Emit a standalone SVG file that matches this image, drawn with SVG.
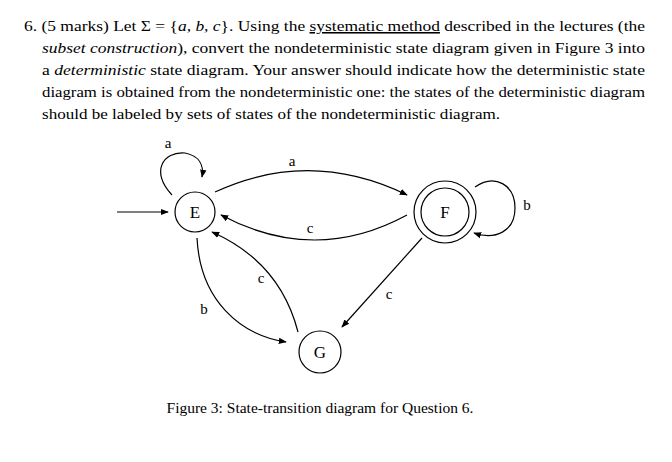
<svg xmlns="http://www.w3.org/2000/svg" width="672" height="462" viewBox="0 0 672 462">
<defs>
<marker id="ah" viewBox="0 0 10 10" refX="9" refY="5" markerWidth="8" markerHeight="8" markerUnits="userSpaceOnUse" orient="auto"><path d="M0,1 L10,5 L0,9 Z" fill="#000"/></marker>
</defs>
<style>
text{font-family:"Liberation Serif","DejaVu Serif",serif;fill:#000}
.p{font-size:15.5px}
.l{font-size:15px;fill:#222}
.n{font-size:17px}
.st{fill:#fff;stroke:#000;stroke-width:1.2}
.e{fill:none;stroke:#000;stroke-width:1.2;marker-end:url(#ah)}
</style>
<rect width="672" height="462" fill="#fff"/>
<g id="question" class="p">
<text x="24" y="31" textLength="621" lengthAdjust="spacingAndGlyphs">6. (5 marks) Let Σ = {<tspan font-style="italic">a, b, c</tspan>}. Using the <tspan text-decoration="underline">systematic method</tspan> described in the lectures (the</text>
<text x="42" y="53" textLength="603" lengthAdjust="spacingAndGlyphs"><tspan font-style="italic">subset construction</tspan>), convert the nondeterministic state diagram given in Figure 3 into</text>
<text x="42" y="75" textLength="603" lengthAdjust="spacingAndGlyphs">a <tspan font-style="italic">deterministic</tspan> state diagram. Your answer should indicate how the deterministic state</text>
<text x="42" y="97" textLength="603" lengthAdjust="spacingAndGlyphs">diagram is obtained from the nondeterministic one: the states of the deterministic diagram</text>
<text x="42" y="119" textLength="458" lengthAdjust="spacingAndGlyphs">should be labeled by sets of states of the nondeterministic diagram.</text>
</g>
<g id="connectors">
<path class="e" d="M117,212 L168,212"/>
<path class="e" d="M172,195 C150,172 163,151 185,153 C200,156 204,166 202,177"/>
<path class="e" d="M215,192 Q310,148 407,195"/>
<path class="e" d="M407,215 Q315,265 221,215"/>
<path class="e" d="M475,187 C495,173 515,185 515,208 C515,232 495,240 474,233"/>
<path class="e" d="M197,238 C200,300 240,335 286,342"/>
<path class="e" d="M298,332 Q280,262 212,232"/>
<path class="e" d="M422,238 L342,327"/>
</g>
<g id="labels" class="l">
<text x="168" y="148" text-anchor="middle">a</text>
<text x="292" y="166" text-anchor="middle">a</text>
<text x="310" y="233" text-anchor="middle">c</text>
<text x="527" y="210" text-anchor="middle">b</text>
<text x="261" y="283" text-anchor="middle">c</text>
<text x="389" y="299" text-anchor="middle">c</text>
<text x="204" y="314" text-anchor="middle">b</text>
</g>
<g id="E"><circle class="st" cx="195" cy="212" r="20"/><text class="n" x="195" y="218" text-anchor="middle">E</text></g>
<g id="F"><circle class="st" cx="445" cy="212" r="31"/><circle class="st" cx="445" cy="212" r="24"/><text class="n" x="445" y="218" text-anchor="middle">F</text></g>
<g id="G"><circle class="st" cx="320" cy="352" r="21"/><text class="n" x="320" y="358" text-anchor="middle">G</text></g>
<g id="caption"><text class="p" x="320" y="413" text-anchor="middle">Figure 3: State-transition diagram for Question 6.</text></g>
</svg>
